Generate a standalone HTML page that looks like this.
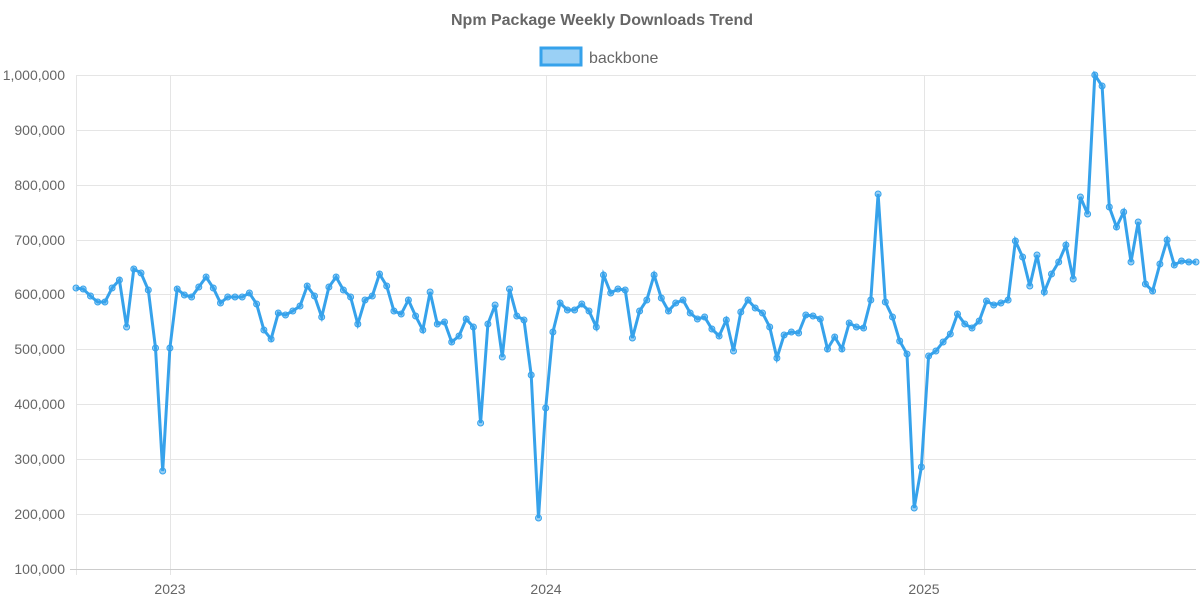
<!DOCTYPE html>
<html><head><meta charset="utf-8"><style>
html,body{margin:0;padding:0;background:#fff;width:1200px;height:600px;overflow:hidden}
text{font-family:"Liberation Sans",Arial,sans-serif}
</style></head><body>
<svg id="s" width="1200" height="600" xmlns="http://www.w3.org/2000/svg">
<text x="602" y="25" text-anchor="middle" font-size="16" font-weight="bold" fill="#666">Npm Package Weekly Downloads Trend</text>
<rect x="541" y="48" width="40" height="17" fill="rgba(54,162,235,0.5)" stroke="#36A2EB" stroke-width="3"/>
<text x="589" y="63" font-size="16" fill="#666">backbone</text>
<g stroke="#e5e5e5" stroke-width="1">
<line x1="76" y1="75.5" x2="1196" y2="75.5"/>
<line x1="76" y1="130.5" x2="1196" y2="130.5"/>
<line x1="76" y1="185.5" x2="1196" y2="185.5"/>
<line x1="76" y1="240.5" x2="1196" y2="240.5"/>
<line x1="76" y1="294.5" x2="1196" y2="294.5"/>
<line x1="76" y1="349.5" x2="1196" y2="349.5"/>
<line x1="76" y1="404.5" x2="1196" y2="404.5"/>
<line x1="76" y1="459.5" x2="1196" y2="459.5"/>
<line x1="76" y1="514.5" x2="1196" y2="514.5"/>
<line x1="76.5" y1="75" x2="76.5" y2="575"/>
<line x1="170.5" y1="75" x2="170.5" y2="575"/>
<line x1="546.5" y1="75" x2="546.5" y2="575"/>
<line x1="924.5" y1="75" x2="924.5" y2="575"/>
</g>
<line x1="70" y1="569.5" x2="1196" y2="569.5" stroke="#ccc"/>
<g font-size="14" fill="#666" text-anchor="end">
<text x="65" y="80">1,000,000</text><text x="65" y="135">900,000</text><text x="65" y="190">800,000</text>
<text x="65" y="245">700,000</text><text x="65" y="299">600,000</text><text x="65" y="354">500,000</text>
<text x="65" y="409">400,000</text><text x="65" y="464">300,000</text><text x="65" y="519">200,000</text>
<text x="65" y="574">100,000</text>
</g>
<g font-size="14" fill="#666" text-anchor="middle">
<text x="170" y="594">2023</text><text x="546" y="594">2024</text><text x="924" y="594">2025</text>
</g>
<g id="d"></g>
</svg>
<script>
var ys=[288,289,296,302,302,288,280,327,269,273,290,348,471,348,289,295,297,287,277,288,303,297,297,297,293,304,330,339,313,315,311,306,286,296,317,287,277,290,297,324,300,296,274,286,311,314,300,316,330,292,324,322,342,336,319,327,423,324,305,357,289,316,320,375,518,408,332,303,310,310,304,311,327,275,293,289,290,338,311,300,275,298,311,303,300,313,319,317,329,336,320,351,312,300,308,313,327,358,335,332,333,315,316,319,349,337,349,323,327,328,300,194,302,317,341,354,508,467,356,351,342,334,314,324,328,321,301,305,303,300,241,257,286,255,292,274,262,245,279,197,214,75,86,207,227,212,262,222,284,291,264,240,265,261,262,262];
var n=ys.length,step=1120/(n-1),pts=[],h='';
for(var i=0;i<n;i++){var x=76+i*step;pts.push(x.toFixed(1)+','+ys[i]);
h+='<circle cx="'+x.toFixed(1)+'" cy="'+ys[i]+'" r="3" fill="rgba(54,162,235,0.5)" stroke="#36A2EB" stroke-width="1"/>';}
document.getElementById('d').innerHTML='<polyline points="'+pts.join(' ')+'" fill="none" stroke="#36A2EB" stroke-width="3" stroke-linejoin="miter"/>'+h;
</script>
</body></html>
